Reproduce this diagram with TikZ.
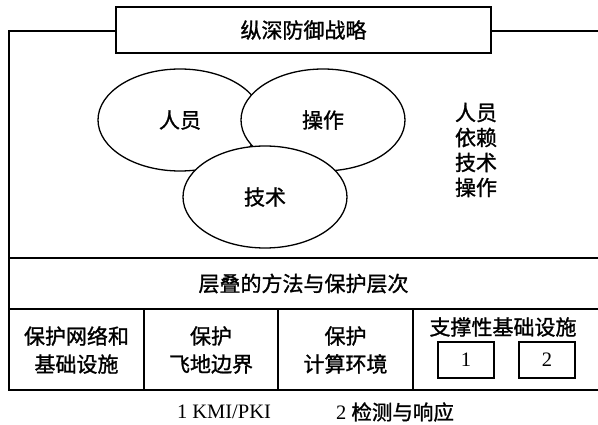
\documentclass[tikz,border=0pt]{standalone}
\usepackage{fontspec}
\setmainfont{Liberation Serif}
\newfontfamily\cjk[FakeBold=1.2]{Noto Sans CJK SC}
\usetikzlibrary{shapes.geometric}
\begin{document}
\begin{tikzpicture}[x=1pt,y=-1pt,
  line/.style={line width=1.3pt},
  lbl/.style={font=\cjk\fontsize{21}{28}\selectfont, align=center, inner sep=0pt},
  rlbl/.style={font=\cjk\fontsize{21}{25}\selectfont, align=center, inner sep=0pt},
  ell/.style={ellipse, draw, line width=1.3pt, fill=white, minimum width=164pt, minimum height=102pt, inner sep=0pt, font=\cjk\fontsize{21}{25}\selectfont},
  numbox/.style={draw, line width=1.3pt, fill=white, minimum width=56pt, minimum height=36pt, inner sep=0pt, font=\fontsize{20.5}{22}\selectfont},
  titlebox/.style={draw, line width=1.3pt, fill=white, minimum width=375pt, minimum height=46pt, inner sep=0pt, font=\cjk\fontsize{21}{25}\selectfont},
  note/.style={inner sep=0pt, font=\fontsize{20.5}{22}\selectfont}]
\useasboundingbox (0,0) rectangle (598,425);
% outer frame
\coordinate (ftl) at (9,31);
\coordinate (fbr) at (601,390);
\draw[line] (ftl) rectangle (fbr);
\coordinate (b1l) at (9,258);
\coordinate (b1r) at (601,258);
\coordinate (b2l) at (9,309);
\coordinate (b2r) at (601,309);
\draw[line] (b1l) -- (b1r);
\draw[line] (b2l) -- (b2r);
% column dividers
\draw[line] (144,309) -- (144,390);
\draw[line] (278,309) -- (278,390);
\draw[line] (413,309) -- (413,390);
% title
\node[titlebox] (title) at (303.5,30) {纵深防御战略};
% ellipses
\node[ell] (people) at (180,120) {人员};
\node[ell] (ops) at (323,120) {操作};
\node[ell] (tech) at (265,197) {技术};
% right column text
\node[rlbl] (deps) at (476,150) {人员\\依赖\\技术\\操作};
% band
\node[lbl] (band) at (303.5,283.5) {层叠的方法与保护层次};
% columns
\node[lbl] (c1) at (76.5,350) {保护网络和\\基础设施};
\node[lbl] (c2) at (211,350) {保护\\飞地边界};
\node[lbl] (c3) at (345.5,350) {保护\\计算环境};
\node[lbl] (c4) at (503,327) {支撑性基础设施};
\node[numbox] (n1) at (466,360) {1};
\node[numbox] (n2) at (547,360) {2};
% footnotes
\node[note] (f1) at (224,412) {1 KMI/PKI};
\node[note] (f2) at (395,412) {2 {\cjk 检测与响应}};
\end{tikzpicture}
\end{document}
